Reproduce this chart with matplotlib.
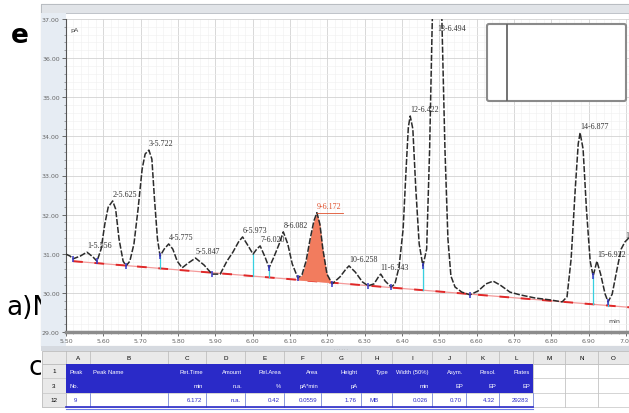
import numpy as np
import matplotlib.pyplot as plt
from matplotlib.patches import Rectangle, FancyBboxPatch
from matplotlib.ticker import MultipleLocator, FormatStrFormatter
from matplotlib.transforms import Bbox, TransformedBbox

W, H = 629, 414

# detector trace, retention time (min) / signal (pA)
time_min = [5.500, 5.511, 5.519, 5.538, 5.556, 5.572, 5.583, 5.594, 5.604, 5.613,
            5.625, 5.633, 5.642, 5.653, 5.661, 5.671, 5.682, 5.693, 5.704, 5.712,
            5.722, 5.730, 5.737, 5.745, 5.752, 5.763, 5.775, 5.786, 5.798, 5.811,
            5.827, 5.847, 5.870, 5.891, 5.913, 5.931, 5.947, 5.962, 5.973, 5.988,
            6.001, 6.011, 6.020, 6.033, 6.044, 6.057, 6.071, 6.082, 6.094, 6.106,
            6.121, 6.132, 6.143, 6.154, 6.164, 6.172, 6.180, 6.188, 6.199, 6.213,
            6.234, 6.250, 6.258, 6.275, 6.294, 6.309, 6.325, 6.337, 6.343, 6.355,
            6.371, 6.381, 6.392, 6.403, 6.411, 6.417, 6.422, 6.429, 6.437, 6.446,
            6.456, 6.466, 6.474, 6.480, 6.486, 6.494, 6.502, 6.508, 6.515, 6.523,
            6.531, 6.542, 6.560, 6.582, 6.604, 6.625, 6.644, 6.663, 6.689, 6.716,
            6.756, 6.797, 6.829, 6.842, 6.853, 6.864, 6.872, 6.877, 6.885, 6.894,
            6.904, 6.912, 6.918, 6.922, 6.932, 6.944, 6.952, 6.963, 6.976, 6.987,
            6.997, 7.010]
signal_pA = [30.99, 30.94, 30.87, 30.94, 31.04, 30.92, 30.81, 31.12, 31.76, 32.19,
             32.35, 32.14, 31.38, 30.81, 30.69, 30.81, 31.25, 32.14, 33.17, 33.55,
             33.65, 33.42, 32.40, 31.38, 30.94, 31.12, 31.25, 31.12, 30.81, 30.64,
             30.76, 30.89, 30.71, 30.48, 30.48, 30.81, 31.04, 31.30, 31.43, 31.20,
             30.99, 31.12, 31.20, 30.92, 30.64, 30.92, 31.25, 31.56, 31.25, 30.74,
             30.38, 30.46, 30.81, 31.38, 31.84, 32.05, 31.76, 31.12, 30.48, 30.23,
             30.41, 30.61, 30.69, 30.53, 30.28, 30.18, 30.23, 30.41, 30.48, 30.30,
             30.15, 30.23, 30.66, 31.63, 33.17, 34.24, 34.52, 34.19, 32.65, 31.25,
             30.69, 31.12, 33.68, 36.49, 39.00, 40.00, 39.00, 36.49, 33.68, 31.38,
             30.43, 30.15, 30.02, 29.95, 30.05, 30.23, 30.30, 30.20, 30.02, 29.95,
             29.87, 29.82, 29.77, 29.90, 30.87, 32.65, 33.81, 34.09, 33.68, 32.14,
             30.81, 30.43, 30.66, 30.81, 30.48, 29.97, 29.77, 29.97, 30.61, 31.12,
             31.30, 31.43]

# integration baseline
baseline_min = [5.519, 7.010]
baseline_pA = [30.81, 29.63]

peak_names = ["1-5.556", "2-5.625", "3-5.722", "4-5.775", "5-5.847", "6-5.973",
              "7-6.020", "8-6.082", "9-6.172", "10-6.258", "11-6.343", "12-6.422",
              "13-6.494", "14-6.877", "15-6.922", "16-6.997"]
peak_rt = [5.556, 5.625, 5.722, 5.775, 5.847, 5.973, 6.020, 6.082, 6.172, 6.258,
           6.343, 6.422, 6.494, 6.877, 6.922, 6.997]
selected_peak = 8
selected_span = [6.121, 6.213]

border_rt = [5.519, 5.583, 5.661, 5.752, 5.891, 6.044, 6.121, 6.213, 6.309,
             6.371, 6.456, 6.582, 6.912, 6.952]
drop_rt = [5.752, 6.001, 6.044, 6.456, 6.912, 6.952]

x_ticks = [5.5, 5.6, 5.7, 5.8, 5.9, 6.0, 6.1, 6.2, 6.3, 6.4, 6.5, 6.6, 6.7, 6.8, 6.9, 7.0]
y_ticks = [29, 30, 31, 32, 33, 34, 35, 36, 37]

# report sheet
col_letters = ["A", "B", "C", "D", "E", "F", "G", "H", "I", "J", "K", "L", "M", "N", "O"]
col_edges = [66, 90, 168, 206, 245, 284, 321, 361, 392, 432, 466, 499, 533, 565, 598, 629]
row_ids = ["1", "3", "12"]
head_top = ["Peak", "Peak Name", "Ret.Time", "Amount", "Rel.Area", "Area", "Height",
            "Type", "Width (50%)", "Asym.", "Resol.", "Plates"]
head_unit = ["No.", "", "min", "n.a.", "%", "pA*min", "pA", "", "min", "EP", "EP", "EP"]
peak_row = ["9", "", "6.172", "n.a.", "0.42", "0.0559", "1.76", "MB", "0.026",
            "0.70", "4.32", "29283"]

BLUE = "#2a2ac8"


def rect(x0, y0, x1, y1):
    return [x0 / W, 1 - y1 / H, (x1 - x0) / W, (y1 - y0) / H]


fig = plt.figure(figsize=(W / 100, H / 100), dpi=100)
fig.patch.set_facecolor("white")

bg = fig.add_axes([0, 0, 1, 1])
bg.set_xlim(0, W)
bg.set_ylim(H, 0)
bg.axis("off")

# text of the surrounding page, partly covered by the screenshots
page_clip = TransformedBbox(Bbox([[0, 0], [41, H]]), bg.transData)
for x, y, txt, weight in [(11, 36, "e", "bold"), (6, 308, "a)N", "normal"),
                          (29, 368, "c", "normal")]:
    tx = bg.text(x, y, txt, fontsize=19, fontweight=weight, va="center", zorder=1)
    tx.set_clip_box(page_clip)
    tx.set_clip_on(True)

# chromatogram window
bg.add_patch(Rectangle((41, 5), 588, 342, fc="white", ec="#a8a8a8", lw=0.8, zorder=2))
bg.add_patch(Rectangle((41, 5), 588, 9, fc="#e1e4e8", ec="#b8bcc2", lw=0.6, zorder=2))
bg.add_patch(Rectangle((41, 14), 25, 333, fc="#e6ecf3", ec="none", zorder=2))
bg.add_patch(Rectangle((41, 347), 588, 5, fc="#d6dae0", ec="none", zorder=2))
bg.text(341, 349.5, ". . . . . .", fontsize=3, color="#777", ha="center", va="center", zorder=3)

# sheet
top, y_rows = 352, [352, 365, 379, 394, 408]
bg.add_patch(Rectangle((42, top), 587, 62, fc="white", ec="none", zorder=2))
bg.add_patch(Rectangle((42, y_rows[0]), 587, y_rows[1] - y_rows[0], fc="#e9e9e9",
                       ec="#b0b0b0", lw=0.5, zorder=2))
bg.add_patch(Rectangle((42, y_rows[1]), 24, y_rows[4] - y_rows[1], fc="#e9e9e9",
                       ec="#b0b0b0", lw=0.5, zorder=2))
for i, letter in enumerate(col_letters):
    cx = (col_edges[i] + col_edges[i + 1]) / 2
    bg.text(cx, (y_rows[0] + y_rows[1]) / 2, letter, fontsize=4.5, ha="center",
            va="center", family="Liberation Sans", zorder=4)
for x in col_edges:
    bg.plot([x, x], [y_rows[0], y_rows[4]], color="#b8b8b8", lw=0.5, zorder=3)
for y in y_rows[1:]:
    bg.plot([42, W], [y, y], color="#c4c4c4", lw=0.5, zorder=3)
for j, rid in enumerate(row_ids):
    bg.text(54, (y_rows[j + 1] + y_rows[j + 2]) / 2, rid, fontsize=4.5, ha="center",
            va="center", family="Liberation Sans", zorder=4)

bg.add_patch(Rectangle((col_edges[0], y_rows[1]), col_edges[12] - col_edges[0],
                       y_rows[3] - y_rows[1], fc=BLUE, ec="none", zorder=3))
for i in range(12):
    x0, x1 = col_edges[i], col_edges[i + 1]
    if i < 2:
        xt, ha = x0 + 3, "left"
    else:
        xt, ha = x1 - 3, "right"
    bg.text(xt, (y_rows[1] + y_rows[2]) / 2 + 1, head_top[i], color="white", fontsize=4.2,
            ha=ha, va="center", family="Liberation Sans", zorder=4)
    bg.text(xt, (y_rows[2] + y_rows[3]) / 2, head_unit[i], color="white", fontsize=4.2,
            ha=ha, va="center", family="Liberation Sans", zorder=4)
    val_x, val_ha = (x0 + 8, "left") if i in (0, 7) else (x1 - 4, "right")
    bg.text(val_x, (y_rows[3] + y_rows[4]) / 2, peak_row[i], color=BLUE, fontsize=4.4,
            ha=val_ha, va="center", family="Liberation Sans", zorder=4)
    bg.plot([x1, x1], [y_rows[3], y_rows[4]], color="#7f8fe0", lw=0.6, zorder=3)
bg.plot([col_edges[0], col_edges[12]], [y_rows[4] + 0.5, y_rows[4] + 0.5], color=BLUE,
        lw=1.2, zorder=4)
bg.plot([col_edges[0], col_edges[12]], [y_rows[4] + 2.5, y_rows[4] + 2.5], color="#6f7fe8",
        lw=0.8, zorder=4)

# chromatogram
ax = fig.add_axes(rect(66, 20, 629, 333))
ax.set_xlim(5.5, 7.008)
ax.set_ylim(29, 37)
ax.set_facecolor("white")

ax.xaxis.set_minor_locator(MultipleLocator(0.02))
ax.yaxis.set_minor_locator(MultipleLocator(0.2))
ax.set_xticks(x_ticks)
ax.set_yticks(y_ticks)
ax.xaxis.set_major_formatter(FormatStrFormatter("%.2f"))
ax.yaxis.set_major_formatter(FormatStrFormatter("%.2f"))
ax.tick_params(which="major", length=3, width=0.6, color="#555", labelsize=4.5,
               labelcolor="#666", pad=1.5)
ax.tick_params(which="minor", length=1.5, width=0.4, color="#666")
ax.grid(which="major", color="#d2d2d2", lw=0.6)
ax.grid(which="minor", color="#f0f0f0", lw=0.4)
ax.set_axisbelow(True)
for side in ("top", "right"):
    ax.spines[side].set_visible(False)
ax.spines["left"].set_color("#555")
ax.spines["left"].set_linewidth(0.8)
ax.spines["bottom"].set_color("#8c8c8c")
ax.spines["bottom"].set_linewidth(2.5)

t = np.array(time_min)
s = np.array(signal_pA)
base = np.interp(t, baseline_min, baseline_pA)

ax.plot(baseline_min, baseline_pA, color="#f49a9a", lw=0.9, zorder=2)
ax.plot(baseline_min, baseline_pA, color="#e02828", lw=1.4, dashes=(5, 6), zorder=2)

sel = (t >= selected_span[0]) & (t <= selected_span[1])
ax.fill_between(t[sel], base[sel], s[sel], color="#f27c5e", lw=0, zorder=3)

ax.plot(t, s, color="#2b2b2b", lw=1.1, dashes=(4, 1.2), zorder=4)

for rt in drop_rt:
    ax.plot([rt, rt], [np.interp(rt, t, s), np.interp(rt, baseline_min, baseline_pA)],
            color="#38d0e0", lw=0.9, zorder=3)
ax.plot(border_rt, np.interp(border_rt, t, s), ls="none", marker="|", ms=5, mew=1.1,
        color="#3838c8", zorder=5)

for k, (name, rt) in enumerate(zip(peak_names, peak_rt)):
    top_val = min(np.interp(rt, t, s), 36.6)
    colour = "#e0502c" if k == selected_peak else "#333"
    ax.annotate(name, (rt, top_val), xytext=(0, 2), textcoords="offset points",
                ha="left", va="bottom", fontsize=5.8, color=colour,
                family="Liberation Serif", annotation_clip=False, clip_on=True, zorder=6)
apex = np.interp(peak_rt[selected_peak], t, s)
ax.plot([peak_rt[selected_peak], peak_rt[selected_peak] + 0.07], [apex, apex],
        color="#e0502c", lw=0.6, zorder=6)

ax.text(0.008, 0.975, "pA", transform=ax.transAxes, fontsize=4.5, color="#444",
        va="top")
ax.text(0.985, 0.03, "min", transform=ax.transAxes, fontsize=4.5, color="#444",
        ha="right", va="bottom")

# overview window
ov = fig.add_axes([0, 0, 1, 1])
ov.set_xlim(0, W)
ov.set_ylim(H, 0)
ov.axis("off")
ov.patch.set_alpha(0)
ov.add_patch(FancyBboxPatch((487, 25), 139, 77, boxstyle="round,pad=0,rounding_size=2",
                            fc="white", ec="#8a8a8a", lw=1.5))
ov.plot([507, 507], [26, 101], color="#5a5a5a", lw=1.2)

fig.savefig("out.png", dpi=100)
